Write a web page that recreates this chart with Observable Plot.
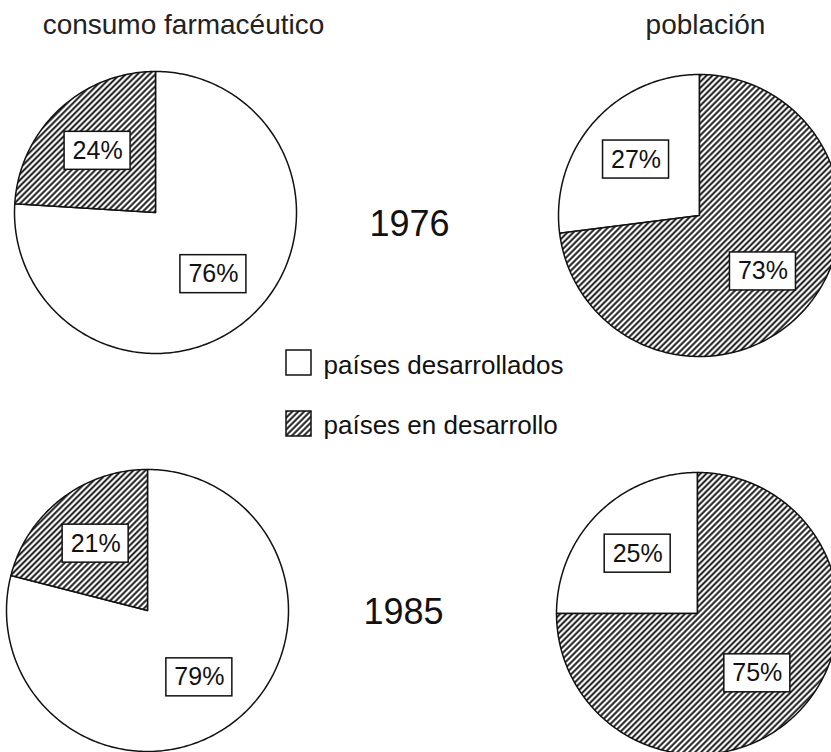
<!DOCTYPE html>
<html>
<head>
<meta charset="utf-8">
<script src="https://cdn.jsdelivr.net/npm/d3@7"></script>
<script src="https://cdn.jsdelivr.net/npm/@observablehq/plot@0.6"></script>
<style>
  html, body { margin: 0; padding: 0; background: #fff; overflow: hidden; }
  svg { font-family: "Liberation Sans", Arial, Helvetica, sans-serif; }
</style>
</head>
<body>
<div id="chart"></div>
<script>
// ---- data ----
const categories = ["países desarrollados", "países en desarrollo"];
const measures = ["consumo farmacéutico", "población"];
const years = ["1976", "1985"];
const consumo1976 = [76, 24];
const poblacion1976 = [27, 73];
const consumo1985 = [79, 21];
const poblacion1985 = [25, 75];

// ---- layout ----
const W = 831, H = 752;
const R = 141;
const pies = [
  {values: consumo1976, cx: 155, cy: 212},
  {values: poblacion1976, cx: 699, cy: 215},
  {values: consumo1985, cx: 147, cy: 610},
  {values: poblacion1985, cx: 697, cy: 613}
];
const titlePos = [{x: 183, y: 33}, {x: 705, y: 33}];
const yearPos = [{x: 409, y: 235}, {x: 403, y: 623}];
const legendPos = [{x: 286, y: 350, tx: 323, ty: 373}, {x: 286, y: 411, tx: 323, ty: 433}];

// build slice outlines and labels from the values
// larger share runs clockwise from 12 o'clock, smaller share counter-clockwise
const slicePts = [];
const labels = [];
pies.forEach((p, i) => {
  const total = d3.sum(p.values);
  const order = d3.range(p.values.length).sort((a, b) => p.values[b] - p.values[a]);
  let a = 0;
  order.forEach(j => {
    const v = p.values[j];
    const a0 = a, a1 = a + (v / total) * 2 * Math.PI;
    a = a1;
    const id = i + "-" + j;
    const cat = categories[j];
    slicePts.push({id, cat, x: p.cx, y: p.cy});
    const n = Math.max(2, Math.ceil((a1 - a0) / (Math.PI / 180)));
    for (let k = 0; k <= n; k++) {
      const t = a0 + (a1 - a0) * k / n;
      slicePts.push({id, cat, x: p.cx + R * Math.sin(t), y: p.cy - R * Math.cos(t)});
    }
    slicePts.push({id, cat, x: p.cx, y: p.cy});
    const mid = (a0 + a1) / 2, lr = R * 0.6;
    labels.push({x: p.cx + lr * Math.sin(mid), y: p.cy - lr * Math.cos(mid), text: v + "%"});
  });
});

const legend = categories.map((c, i) => ({cat: c, ...legendPos[i]}));

const defs = () => {
  const d = d3.create("svg:defs");
  const p = d.append("pattern")
    .attr("id", "hatch")
    .attr("patternUnits", "userSpaceOnUse")
    .attr("width", 4.2).attr("height", 4.2)
    .attr("patternTransform", "rotate(45)");
  p.append("rect").attr("width", 4.2).attr("height", 4.2).attr("fill", "white");
  p.append("line").attr("x1", 2.1).attr("y1", -1).attr("x2", 2.1).attr("y2", 5.2)
    .attr("stroke", "#111").attr("stroke-width", 1.9);
  return d.node();
};

const chart = Plot.plot({
  width: W,
  height: H,
  margin: 0,
  x: {type: "identity", axis: null},
  y: {type: "identity", axis: null},
  style: {background: "white", fontFamily: "'Liberation Sans', Arial, Helvetica, sans-serif"},
  marks: [
    defs,
    Plot.line(slicePts.filter(d => d.cat === categories[0]), {
      x: "x", y: "y", z: "id", fill: "white", stroke: "#111", strokeWidth: 1.5, curve: "linear"
    }),
    Plot.line(slicePts.filter(d => d.cat === categories[1]), {
      x: "x", y: "y", z: "id", fill: "url(#hatch)", stroke: "#111", strokeWidth: 1.5, curve: "linear"
    }),
    Plot.rect(labels, {
      x1: d => d.x - 33, x2: d => d.x + 33, y1: d => d.y - 19, y2: d => d.y + 19,
      fill: "white", stroke: "#111", strokeWidth: 1.5
    }),
    Plot.text(labels, {x: "x", y: "y", text: "text", fontSize: 25, fill: "#111"}),
    Plot.text(measures, {
      x: (d, i) => titlePos[i].x, y: (d, i) => titlePos[i].y, text: d => d,
      fontSize: 28, lineAnchor: "bottom", fill: "#222"
    }),
    Plot.text(years, {
      x: (d, i) => yearPos[i].x, y: (d, i) => yearPos[i].y, text: d => d,
      fontSize: 36, lineAnchor: "bottom", fill: "#111"
    }),
    Plot.rect(legend, {
      x1: "x", x2: d => d.x + 25, y1: "y", y2: d => d.y + 25,
      fill: d => d.cat === categories[0] ? "white" : "url(#hatch)",
      stroke: "#111", strokeWidth: 1.5
    }),
    Plot.text(legend, {
      x: "tx", y: "ty", text: "cat", textAnchor: "start", lineAnchor: "bottom",
      fontSize: 26, fill: "#111"
    })
  ]
});
document.getElementById("chart").appendChild(chart);
</script>
</body>
</html>
